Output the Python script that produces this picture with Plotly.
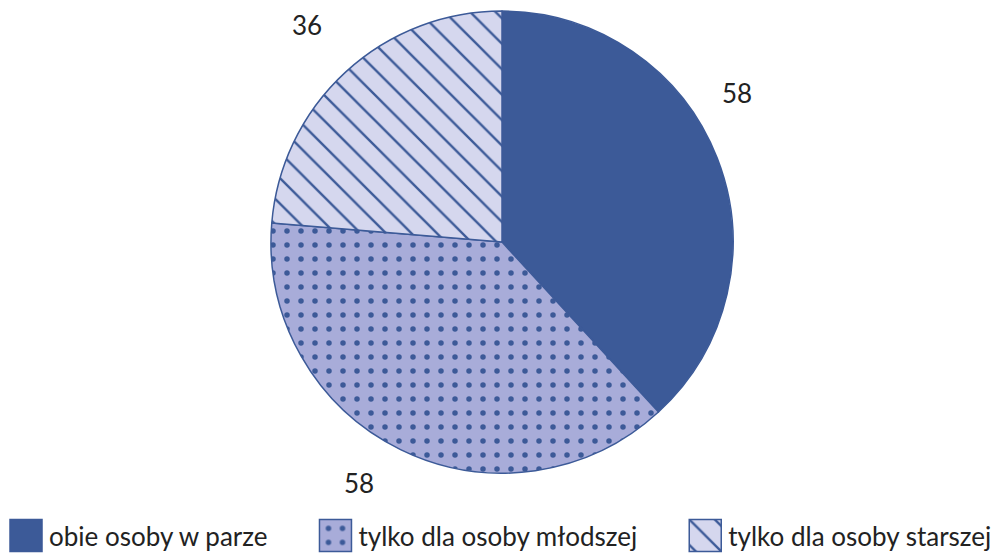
import plotly.graph_objects as go

# data
categories = ["obie osoby w parze", "tylko dla osoby młodszej", "tylko dla osoby starszej"]
values = [58, 58, 36]

# where the value labels sit (paper coords, centre of the text)
label_pos = [(0.734, 0.832), (0.3575, 0.128), (0.3055, 0.955)]

dark_blue = "#3c5a98"
fills = [dark_blue, "#a8acd9", "#d5d7ee"]
patterns = ["", ".", "\\"]
text_color = "#222222"

# a bit of padding after the first two legend entries, like the original
spacer = "\u00a0" * 6
legend_labels = [c + spacer for c in categories[:-1]] + [categories[-1]]

fig = go.Figure()
fig.add_trace(go.Pie(
    labels=legend_labels,
    values=values,
    sort=False,
    direction="clockwise",
    rotation=0,
    textinfo="none",
    marker=dict(
        colors=fills,
        line=dict(color=dark_blue, width=1.5),
        pattern=dict(shape=patterns, fgcolor=dark_blue, bgcolor=fills,
                     fgopacity=1, size=[10, 14, 18],
                     solidity=[0.3, 0.12, 0.13], fillmode="overlay"),
    ),
    domain=dict(x=[0.2699, 0.7301], y=[0.146, 0.980]),
    hovertemplate="%{label}: %{value}<extra></extra>",
))

for v, (px, py) in zip(values, label_pos):
    fig.add_annotation(x=px, y=py, xref="paper", yref="paper", text=str(v),
                       showarrow=False, xanchor="center", yanchor="middle",
                       font=dict(family="Lato", size=26, color=text_color))

fig.update_layout(
    width=1004, height=554,
    margin=dict(l=0, r=0, t=0, b=0, autoexpand=False),
    paper_bgcolor="white",
    plot_bgcolor="white",
    font=dict(family="Lato", size=26, color=text_color),
    showlegend=True,
    legend=dict(orientation="h", x=0.003, xanchor="left", y=-0.009, yanchor="bottom",
                font=dict(family="Lato", size=26, color=text_color),
                itemwidth=36),
)

# no page margin, and big square legend swatches like the original
post = """
document.body.style.margin = '0';
document.querySelectorAll('.legendpoints path.legendpie').forEach(function(p){
    p.setAttribute('d', 'M16,16H-16V-16H16Z');
});
"""

fig.write_html("out.html", post_script=post, config={"displayModeBar": False})
